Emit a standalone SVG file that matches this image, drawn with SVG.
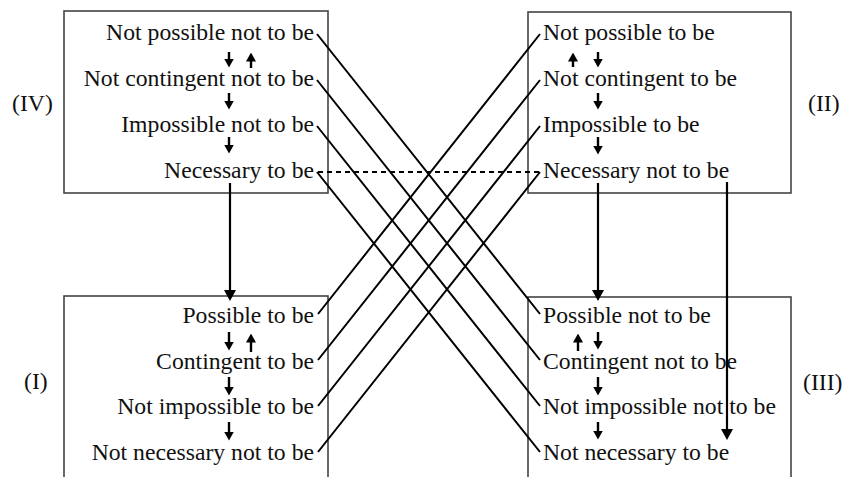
<svg xmlns="http://www.w3.org/2000/svg" width="844" height="477" viewBox="0 0 844 477">
<defs>
<marker id="ah" viewBox="0 0 11 12" refX="6" refY="6" markerWidth="11" markerHeight="12" markerUnits="userSpaceOnUse" orient="auto">
<path d="M0,0 L11,6 L0,12 z" fill="#000"/>
</marker>
<marker id="as" viewBox="0 0 9 10" refX="4.5" refY="5" markerWidth="9" markerHeight="10" markerUnits="userSpaceOnUse" orient="auto">
<path d="M0,0 L9,5 L0,10 z" fill="#000"/>
</marker>
</defs>
<style>
.box{fill:#fff;stroke:#444;stroke-width:1.6}
.t{font-family:"Liberation Serif","Times New Roman",serif;font-size:23.7px;fill:#111}
.r{text-anchor:end}
.c{stroke:#000;stroke-width:2;fill:none}
.d{stroke:#000;stroke-width:2;stroke-dasharray:5,4;fill:none}
.big{stroke:#000;stroke-width:2.2;marker-end:url(#ah)}
.sm{stroke:#000;stroke-width:2.4;marker-end:url(#as)}
</style>
<rect width="844" height="477" fill="#fff"/>

<g id="boxIV">
<rect class="box" x="64" y="11" width="264" height="182"/>
<text class="t r" x="314" y="40">Not possible not to be</text>
<text class="t r" x="314" y="86">Not contingent not to be</text>
<text class="t r" x="314" y="132">Impossible not to be</text>
<text class="t r" x="314" y="178">Necessary to be</text>
<line class="sm" x1="229" y1="52" x2="229" y2="63"/>
<line class="sm" x1="251" y1="68" x2="251" y2="57"/>
<line class="sm" x1="229" y1="93" x2="229" y2="105"/>
<line class="sm" x1="229" y1="137" x2="229" y2="149"/>
<text class="t" x="12" y="111">(IV)</text>
</g>

<g id="boxII">
<rect class="box" x="528" y="12" width="263" height="181"/>
<text class="t" x="543" y="40">Not possible to be</text>
<text class="t" x="543" y="86">Not contingent to be</text>
<text class="t" x="543" y="132">Impossible to be</text>
<text class="t" x="543" y="178">Necessary not to be</text>
<line class="sm" x1="573" y1="67" x2="573" y2="57"/>
<line class="sm" x1="598" y1="52" x2="598" y2="63"/>
<line class="sm" x1="598" y1="93" x2="598" y2="105"/>
<line class="sm" x1="598" y1="137" x2="598" y2="150"/>
<text class="t" x="808" y="111">(II)</text>
</g>

<g id="boxI">
<rect class="box" x="64" y="296" width="264" height="190"/>
<text class="t r" x="314" y="323">Possible to be</text>
<text class="t r" x="314" y="369">Contingent to be</text>
<text class="t r" x="314" y="414">Not impossible to be</text>
<text class="t r" x="314" y="460">Not necessary not to be</text>
<line class="sm" x1="229" y1="332" x2="229" y2="346"/>
<line class="sm" x1="251" y1="352" x2="251" y2="338"/>
<line class="sm" x1="229" y1="377" x2="229" y2="391"/>
<line class="sm" x1="229" y1="422" x2="229" y2="436"/>
<text class="t" x="24" y="389">(I)</text>
</g>

<g id="boxIII">
<rect class="box" x="528" y="297" width="263" height="190"/>
<text class="t" x="543" y="323">Possible not to be</text>
<text class="t" x="543" y="369">Contingent not to be</text>
<text class="t" x="543" y="414">Not impossible not to be</text>
<text class="t" x="543" y="460">Not necessary to be</text>
<line class="sm" x1="578" y1="351" x2="578" y2="338"/>
<line class="sm" x1="598" y1="332" x2="598" y2="345"/>
<line class="sm" x1="598" y1="377" x2="598" y2="391"/>
<line class="sm" x1="598" y1="422" x2="598" y2="435"/>
<text class="t" x="803" y="390">(III)</text>
</g>

<g id="connectors">
<path class="c" d="M317,34 L540,314 M317,80 L540,360 M317,126 L540,406 M317,172 L540,452"/>
<path class="c" d="M318,314 L540,34 M318,360 L540,80 M318,406 L540,126 M318,452 L540,172"/>
<line class="d" x1="318" y1="172" x2="540" y2="172"/>
<line class="big" x1="230" y1="183" x2="230" y2="296"/>
<line class="big" x1="598" y1="183" x2="598" y2="296"/>
<line class="big" x1="727" y1="182" x2="727" y2="435"/>
</g>
</svg>
